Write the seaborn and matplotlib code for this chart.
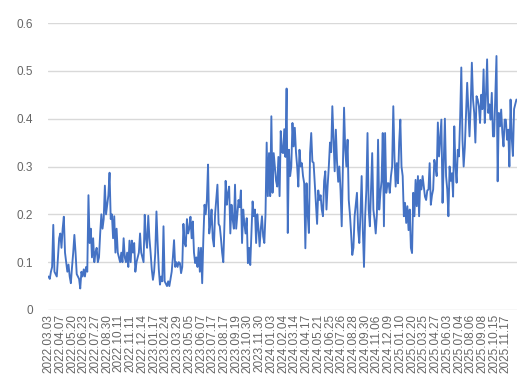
import matplotlib
matplotlib.use("Agg")
import matplotlib.pyplot as plt
import seaborn as sns
import pandas as pd
import numpy as np

tick_labels = [
    "2022.03.03", "2022.04.07", "2022.05.20", "2022.06.23", "2022.07.27",
    "2022.08.30", "2022.10.11", "2022.11.11", "2022.12.14", "2023.01.17",
    "2023.02.24", "2023.03.29", "2023.05.05", "2023.06.07", "2023.07.17",
    "2023.08.17", "2023.09.19", "2023.10.30", "2023.11.30", "2024.01.03",
    "2024.02.04", "2024.03.14", "2024.04.17", "2024.05.21", "2024.06.25",
    "2024.07.26", "2024.08.28", "2024.09.30", "2024.11.06", "2024.12.09",
    "2025.01.10", "2025.02.20", "2025.03.25", "2025.04.27", "2025.06.03",
    "2025.07.04", "2025.08.06", "2025.09.08", "2025.10.15", "2025.11.17",
]

values_2022 = [
    0.07, 0.065, 0.08, 0.09, 0.178, 0.08, 0.075, 0.07, 0.11, 0.15,
    0.16, 0.13, 0.17, 0.195, 0.12, 0.1, 0.08, 0.095, 0.07, 0.056,
    0.09, 0.12, 0.157, 0.12, 0.075, 0.07, 0.065, 0.045, 0.08, 0.07,
    0.085, 0.07, 0.09, 0.08, 0.24, 0.14, 0.17, 0.11, 0.15, 0.1,
    0.12, 0.13, 0.1, 0.11, 0.16, 0.2, 0.17, 0.19, 0.26, 0.2,
    0.22, 0.24, 0.287, 0.19, 0.2, 0.15, 0.196, 0.12, 0.17, 0.12,
    0.11, 0.1, 0.12, 0.1, 0.15, 0.11, 0.1, 0.12, 0.09, 0.145,
    0.1, 0.145, 0.12, 0.14, 0.08, 0.1, 0.11, 0.12, 0.16, 0.12,
    0.11, 0.1, 0.199, 0.15, 0.13, 0.197, 0.15, 0.12, 0.085, 0.063,
]
values_2023 = [
    0.08, 0.12, 0.206, 0.14, 0.085, 0.053, 0.07, 0.06, 0.175, 0.06,
    0.055, 0.05, 0.06, 0.05, 0.065, 0.08, 0.11, 0.146, 0.09, 0.1,
    0.09, 0.1, 0.098, 0.077, 0.09, 0.18, 0.14, 0.133, 0.19, 0.16,
    0.17, 0.195, 0.15, 0.185, 0.12, 0.098, 0.11, 0.09, 0.13, 0.08,
    0.13, 0.056, 0.15, 0.22, 0.2, 0.23, 0.304, 0.16, 0.18, 0.21,
    0.15, 0.133, 0.2, 0.23, 0.262, 0.18, 0.175, 0.15, 0.12, 0.1,
    0.18, 0.27, 0.22, 0.245, 0.258, 0.16, 0.22, 0.19, 0.17, 0.262,
    0.17, 0.2, 0.23, 0.215, 0.25, 0.14, 0.21, 0.18, 0.16, 0.192,
    0.098, 0.13, 0.094, 0.16, 0.227, 0.196, 0.21, 0.14, 0.2, 0.17,
    0.133, 0.17, 0.196, 0.154, 0.14, 0.2, 0.35, 0.238, 0.328, 0.238,
]
values_2024 = [
    0.405, 0.245, 0.328, 0.3, 0.27, 0.258, 0.32, 0.238, 0.374, 0.33,
    0.328, 0.378, 0.32, 0.463, 0.161, 0.335, 0.28, 0.3, 0.391, 0.342,
    0.381, 0.33, 0.3, 0.258, 0.335, 0.3, 0.307, 0.28, 0.265, 0.129,
    0.265, 0.2, 0.161, 0.328, 0.37, 0.31, 0.308, 0.265, 0.22, 0.18,
    0.25, 0.23, 0.24, 0.21, 0.196, 0.27, 0.29, 0.21, 0.26, 0.3,
    0.35, 0.33, 0.426, 0.36, 0.29, 0.377, 0.31, 0.268, 0.3, 0.25,
    0.175, 0.3, 0.423, 0.335, 0.3, 0.356, 0.23, 0.2, 0.161, 0.115,
    0.13, 0.196, 0.22, 0.245, 0.168, 0.14, 0.2, 0.28, 0.168, 0.09,
    0.196, 0.25, 0.37, 0.21, 0.175, 0.25, 0.328, 0.21, 0.189, 0.16,
    0.2, 0.356, 0.21, 0.245, 0.27, 0.37, 0.175, 0.37, 0.245, 0.265,
    0.265, 0.245, 0.28, 0.3, 0.426, 0.32, 0.258, 0.307, 0.265, 0.35,
]
values_2025 = [
    0.398, 0.3, 0.28, 0.196, 0.224, 0.182, 0.217, 0.167, 0.21, 0.13,
    0.119, 0.245, 0.196, 0.272, 0.217, 0.28, 0.196, 0.272, 0.252, 0.28,
    0.258, 0.237, 0.23, 0.25, 0.252, 0.307, 0.22, 0.24, 0.252, 0.314,
    0.3, 0.28, 0.392, 0.321, 0.36, 0.398, 0.224, 0.307, 0.4, 0.28,
    0.252, 0.196, 0.3, 0.27, 0.286, 0.237, 0.384, 0.3, 0.266, 0.335,
    0.321, 0.4, 0.507, 0.356, 0.3, 0.34, 0.405, 0.475, 0.42, 0.363,
    0.426, 0.517, 0.44, 0.412, 0.35, 0.447, 0.44, 0.426, 0.391, 0.45,
    0.42, 0.503, 0.391, 0.447, 0.524, 0.412, 0.43, 0.398, 0.454, 0.363,
    0.363, 0.45, 0.531, 0.269, 0.412, 0.384, 0.419, 0.37, 0.342, 0.398,
    0.398, 0.356, 0.377, 0.3, 0.44, 0.36, 0.322, 0.42, 0.43, 0.44,
]

values = values_2022 + values_2023 + values_2024 + values_2025
label_step = 10

sns.set_theme(style="white")
plt.rcParams['font.family'] = ['Liberation Sans', 'DejaVu Sans']

df = pd.DataFrame({"idx": np.arange(len(values)), "value": values})

fig = plt.figure(figsize=(5.3, 3.78), dpi=100)
ax = fig.add_axes([48 / 530, 1 - 310 / 378, (517 - 48) / 530, (310 - 23) / 378])

sns.lineplot(data=df, x="idx", y="value", ax=ax, color="#4472C4", linewidth=1.35)

ax.set_ylim(0, 0.6)
ax.set_yticks([0, 0.1, 0.2, 0.3, 0.4, 0.5, 0.6])
ax.set_yticklabels(["0", "0.1", "0.2", "0.3", "0.4", "0.5", "0.6"])
ax.set_xlim(-0.5, len(values) - 0.5)
ax.set_xticks(np.arange(0, len(tick_labels) * label_step, label_step))
ax.set_xticklabels(tick_labels, rotation=90)
ax.tick_params(axis="both", length=0, labelsize=8.5, colors="#666666")
ax.tick_params(axis="y", pad=11)
ax.tick_params(axis="x", pad=3)
ax.grid(axis="y", color="#d9d9d9", linewidth=1)
ax.grid(axis="x", visible=False)
for s in ax.spines.values():
    s.set_visible(False)
ax.set_xlabel("")
ax.set_ylabel("")

fig.savefig("out.png", dpi=100)
